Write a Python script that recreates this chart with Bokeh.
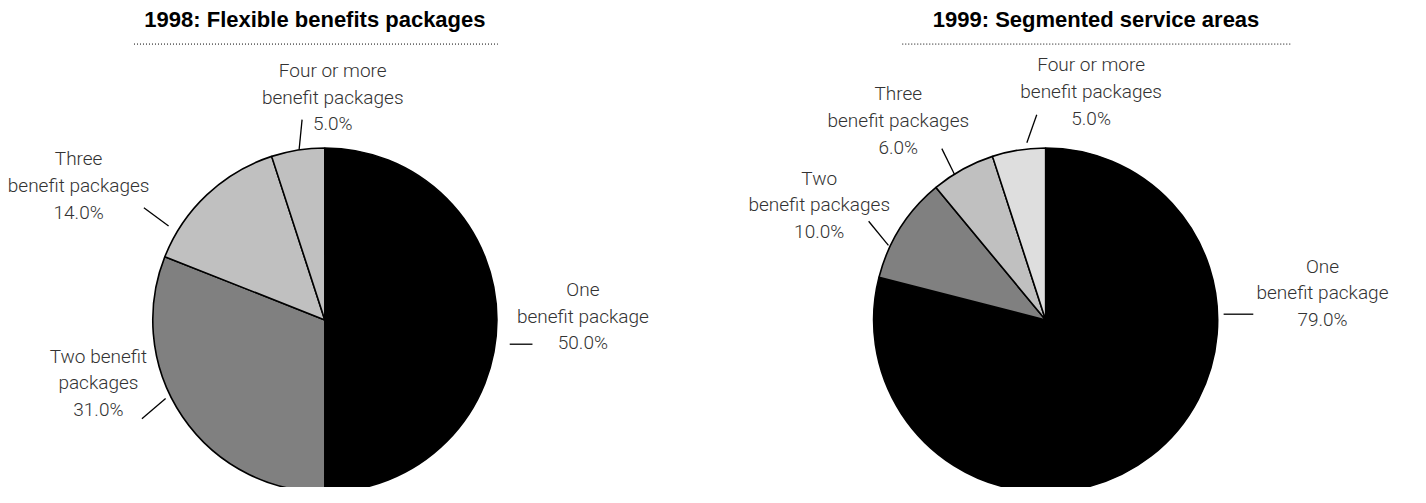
import numpy as np
from bokeh.plotting import figure
from bokeh.models import Range1d, ColumnDataSource
from bokeh.core.properties import value
from bokeh.embed import file_html
from bokeh.resources import INLINE

# ---------------- data ----------------
categories = ["One", "Two", "Three", "Four or more"]
values_1998 = [50.0, 31.0, 14.0, 5.0]
values_1999 = [79.0, 10.0, 6.0, 5.0]
labels_1998 = ["One\nbenefit package", "Two benefit\npackages",
               "Three\nbenefit packages", "Four or more\nbenefit packages"]
labels_1999 = ["One\nbenefit package", "Two\nbenefit packages",
               "Three\nbenefit packages", "Four or more\nbenefit packages"]
titles = ["1998: Flexible benefits packages", "1999: Segmented service areas"]

# ---------------- styles / layout ----------------
colors_1998 = ["#000000", "#808080", "#c0c0c0", "#c0c0c0"]
colors_1999 = ["#000000", "#808080", "#c0c0c0", "#dedede"]
LABEL_FONT = "Roboto Light, Liberation Sans Narrow, Roboto, sans-serif"
TITLE_FONT = "Liberation Sans, Arial, sans-serif"
W, H = 1426, 503
def Y(y):
    return H - y

W_FIG, H_FIG = 1410, 487
p = figure(width=W_FIG, height=H_FIG, output_backend="svg", toolbar_location=None,
           x_range=Range1d(0, W), y_range=Range1d(0, H),
           min_border=0, outline_line_color=None)
p.axis.visible = False
p.grid.visible = False

pies = [
    dict(cx=328, cy=330, r=174, vals=values_1998, cols=colors_1998, labels=labels_1998,
         title=titles[0], title_x=318, rule=(135, 503),
         anchors=[(589, 326), (99, 395), (79, 191), (336, 100)],
         leaders=[((515, 355), (538, 355)), ((143, 432), (167, 411)),
                  ((145, 214), (170, 233)), ((305, 123), (302, 154))]),
    dict(cx=1057, cy=330, r=174, vals=values_1999, cols=colors_1999, labels=labels_1999,
         title=titles[1], title_x=1108, rule=(912, 1305),
         anchors=[(1337, 302), (828, 211), (908, 124), (1103, 94)],
         leaders=[((1237, 324), (1267, 324)), ((878, 228), (898, 253)),
                  ((952, 153), (965, 180)), ((1048, 118), (1038, 147))]),
]

LINE_STEP = 27.5

for pie in pies:
    vals = np.array(pie["vals"], dtype=float)
    frac = vals / vals.sum()
    cum = np.concatenate([[0.0], np.cumsum(frac)])
    start = np.pi / 2 - cum[:-1] * 2 * np.pi
    end = np.pi / 2 - cum[1:] * 2 * np.pi
    src = ColumnDataSource(dict(x=[pie["cx"]] * len(vals), y=[Y(pie["cy"])] * len(vals),
                                start=start, end=end, color=pie["cols"]))
    p.wedge(x="x", y="y", radius=pie["r"], start_angle="start", end_angle="end",
            direction="clock", fill_color="color", line_color="black", line_width=1.6,
            source=src)

    # labels
    tx, ty, tt = [], [], []
    for lab, v, (ax, ay) in zip(pie["labels"], pie["vals"], pie["anchors"]):
        lines = lab.split("\n") + [f"{v:.1f}%"]
        n = len(lines)
        for i, ln in enumerate(lines):
            tx.append(ax)
            ty.append(Y(ay + (i - (n - 1) / 2) * LINE_STEP))
            tt.append(ln)
    p.text(x=tx, y=ty, text=tt, text_font=value(LABEL_FONT), text_font_size="19px",
           text_color="#333333", text_align="center", text_baseline="middle")

    # leader lines
    xs = [[a[0], b[0]] for a, b in pie["leaders"]]
    ys = [[Y(a[1]), Y(b[1])] for a, b in pie["leaders"]]
    p.multi_line(xs=xs, ys=ys, line_color="black", line_width=1.3)

    # title and dotted rule
    p.text(x=[pie["title_x"]], y=[Y(20)], text=[pie["title"]], text_font=value(TITLE_FONT),
           text_font_size="22px", text_font_style="bold", text_color="black",
           text_align="center", text_baseline="middle")
    p.line(x=list(pie["rule"]), y=[Y(45), Y(45)], line_color="black", line_width=1,
           line_dash="1 2")

open("out.html", "w").write(file_html(p, INLINE))
